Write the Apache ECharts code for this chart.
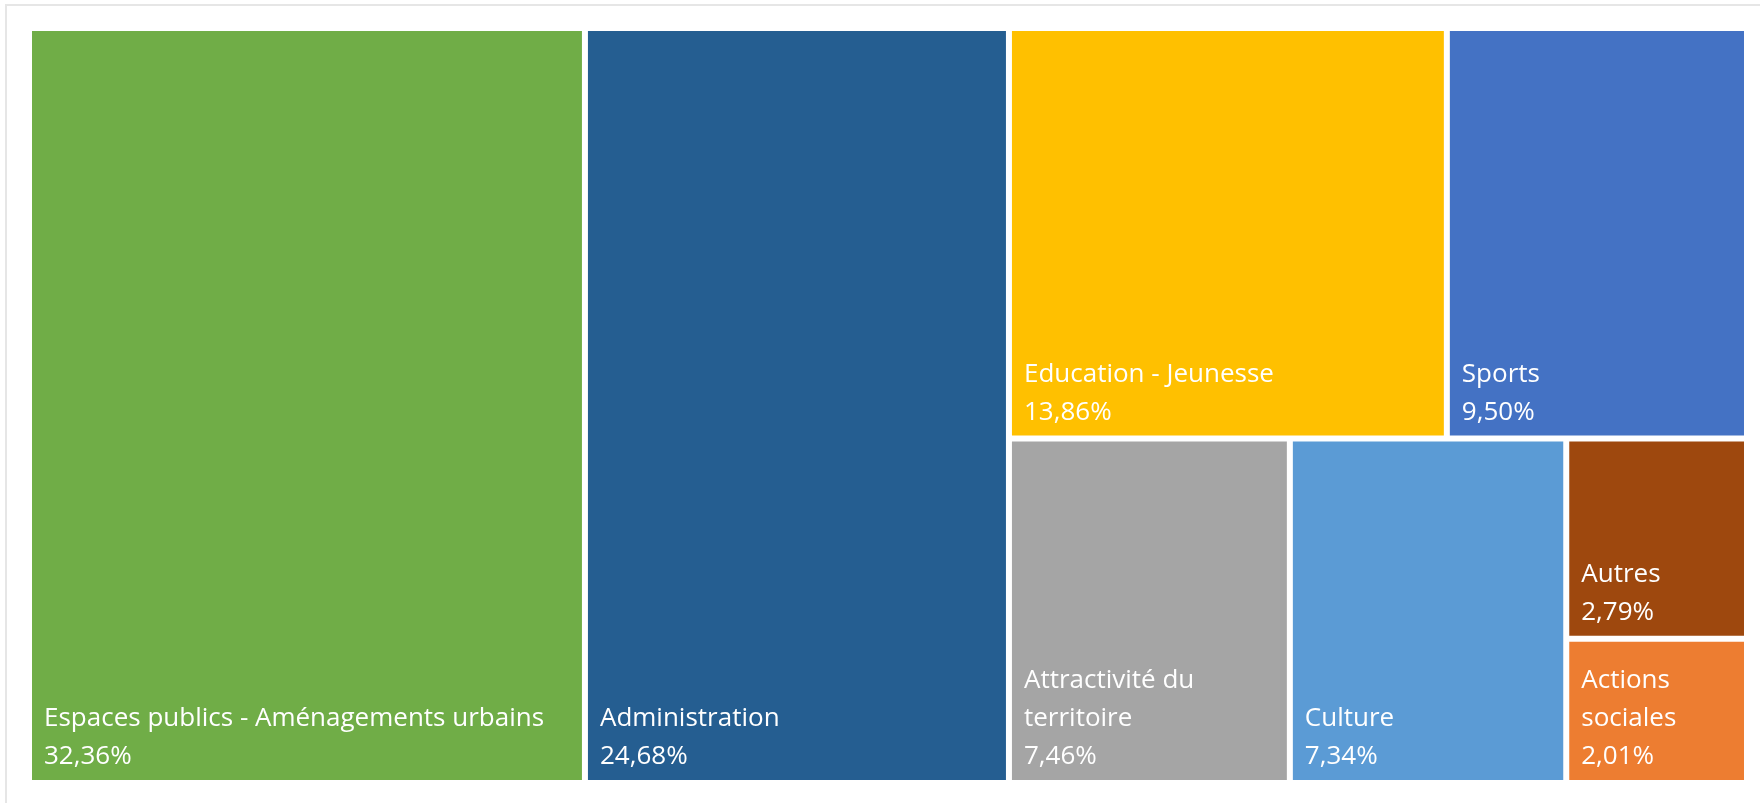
<!DOCTYPE html>
<html lang="fr">
<head>
    <meta charset="utf-8">
    <title>Répartition</title>
    <script src="https://cdn.jsdelivr.net/npm/echarts@6/dist/echarts.min.js"></script>
    <style>
        html, body {margin: 0; padding: 0; background: #fff;}
        #main {width: 1760px; height: 803px;}
    </style>
</head>
<body>
<div id="main"></div>
<script type="text/javascript">
    // données
    var categories = ['Espaces publics - Aménagements urbains', 'Administration', 'Education - Jeunesse',
        'Sports', 'Attractivité du territoire', 'Culture', 'Autres', 'Actions sociales'];
    var values = [32.36, 24.68, 13.86, 9.50, 7.46, 7.34, 2.79, 2.01];
    var colors = ['#70AD47', '#255E91', '#FFC000', '#4472C4', '#A5A5A5', '#5B9BD5', '#9E480E', '#ED7D31'];

    var seriesData = [];
    for (var i = 0; i < categories.length; i++) {
        seriesData.push({
            name: categories[i],
            value: values[i],
            itemStyle: {color: colors[i]}
        });
    }

    var myChart = echarts.init(document.getElementById('main'));
    var option = {
        animation: false,
        graphic: [{
            type: 'rect',
            shape: {x: 6, y: 5, width: 1800, height: 900},
            style: {fill: 'none', stroke: '#e6e6e6', lineWidth: 2},
            silent: true
        }],
        series: [{
            type: 'treemap',
            left: 26,
            top: 25,
            width: 1724,
            height: 761,
            roam: false,
            nodeClick: false,
            squareRatio: 1,
            breadcrumb: {show: false},
            itemStyle: {
                borderWidth: 3,
                borderColor: '#fff',
                gapWidth: 0
            },
            label: {
                show: true,
                position: 'insideBottomLeft',
                distance: 6,
                offset: [6, 2],
                padding: [0, 30, 0, 0],
                color: '#fff',
                fontFamily: 'Open Sans',
                fontSize: 26,
                lineHeight: 38,
                overflow: 'break',
                formatter: function (p) {
                    return p.name + '\n' + p.value.toFixed(2).replace('.', ',') + '%';
                }
            },
            data: seriesData
        }]
    };
    myChart.setOption(option);
</script>
</body>
</html>
